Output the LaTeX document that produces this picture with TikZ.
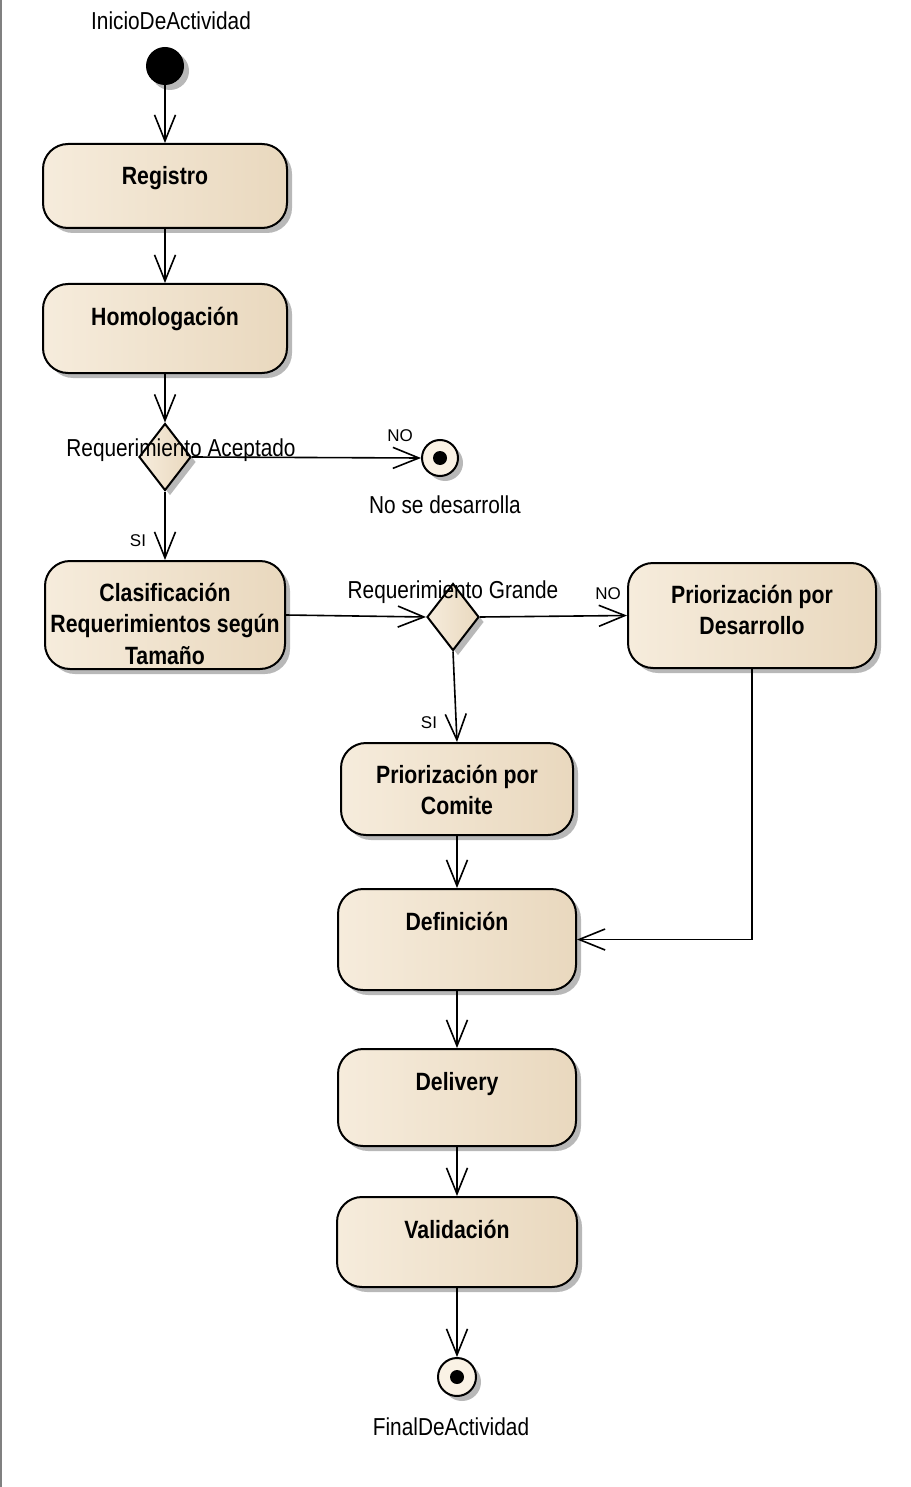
\documentclass[tikz,border=0pt]{standalone}
\usepackage{fontspec}
\newfontfamily\eafont[FakeStretch=0.85]{Liberation Sans}
\newfontfamily\eatag{Liberation Sans}
\usetikzlibrary{shapes.geometric,shadows,arrows.meta}
\definecolor{eaL}{RGB}{246,236,220}
\definecolor{eaM}{RGB}{250,242,229}
\definecolor{eaR}{RGB}{233,216,190}
\tikzset{
  shade/.style={drop shadow={shadow xshift=5pt,shadow yshift=-5pt,fill=black!28,opacity=1}},
  act/.style={draw,line width=2pt,rounded corners=25pt,left color=eaL,middle color=eaM,right color=eaR,shade},
  acttxt/.style={font=\eafont\bfseries\fontsize{25}{31.5}\selectfont,text width=236pt,align=flush center,inner sep=0pt,anchor=base},
  dec/.style={diamond,draw,line width=2pt,minimum width=52pt,minimum height=67pt,inner sep=0pt,left color=eaL,middle color=eaM,right color=eaR,shade},
  fin/.style={circle,draw,line width=2pt,minimum size=36pt,inner sep=0pt,fill=eaM,shade,
    path picture={\fill[black] (path picture bounding box.center) circle (7pt);}},
  plain/.style={font=\eafont\fontsize{24.5}{28}\selectfont,inner sep=0pt,anchor=base},
  tag/.style={font=\eatag\fontsize{17}{20}\selectfont,inner sep=0pt,anchor=base},
  flow/.style={line width=1.6pt,-{Straight Barb[length=26pt,width=21pt,line width=1.6pt]}}
}
\begin{document}
\begin{tikzpicture}[x=1pt,y=-1pt]
  \useasboundingbox (0,0) rectangle (910,1487);
  \draw[gray,line width=2pt] (1,0) -- (1,1487);

  \node[circle,fill=black,minimum size=38pt,inner sep=0pt,shade] (ini) at (165,66) {};
  \node[plain] (initxt) at (171,30) {InicioDeActividad};

  \node[act,minimum width=244pt,minimum height=84pt] (reg) at (165,186) {};
  \node[acttxt] (regtxt) at ([yshift=-42pt]reg.north) {Registro};
  \node[act,minimum width=244pt,minimum height=89pt] (hom) at (165,328.5) {};
  \node[acttxt] (homtxt) at ([yshift=-42pt]hom.north) {Homologación};

  \node[dec] (dec1) at (165,457) {};
  \node[fin] (fin1) at (440,458) {};
  \node[plain] (fin1txt) at (445,513) {No se desarrolla};

  \node[act,minimum width=240pt,minimum height=108pt] (cla) at (165,615) {};
  \node[acttxt] (clatxt) at ([yshift=-41pt]cla.north) {Clasificación\\Requerimientos según\\Tamaño};

  \node[dec] (dec2) at (453,617) {};
  \node[act,minimum width=248pt,minimum height=105pt] (pde) at (752,615.5) {};
  \node[acttxt] (pdetxt) at ([yshift=-41pt]pde.north) {Priorización por\\Desarrollo};

  \node[act,minimum width=232pt,minimum height=92pt] (pco) at (457,789) {};
  \node[acttxt] (pcotxt) at ([yshift=-41pt]pco.north) {Priorización por\\Comite};
  \node[act,minimum width=238pt,minimum height=101pt] (def) at (457,939.5) {};
  \node[acttxt] (deftxt) at ([yshift=-42pt]def.north) {Definición};
  \node[act,minimum width=238pt,minimum height=97pt] (del) at (457,1097.5) {};
  \node[acttxt] (deltxt) at ([yshift=-42pt]del.north) {Delivery};
  \node[act,minimum width=240pt,minimum height=90pt] (val) at (457,1242) {};
  \node[acttxt] (valtxt) at ([yshift=-42pt]val.north) {Validación};

  \node[fin,minimum size=38pt] (fin2) at (457,1377) {};
  \node[plain] (fin2txt) at (451,1435) {FinalDeActividad};

  \foreach \a/\b in {ini/reg,reg/hom,hom/dec1,dec1/cla,pco/def,def/del,del/val,val/fin2}
    \draw[flow] (\a) -- (\b);
  \draw[flow] (dec1.east) -- (fin1.west);
  \draw[flow] (cla.east) -- (dec2.west);
  \draw[flow] (dec2.east) -- (pde.west);
  \draw[flow] (dec2.south) -- (pco.north);
  \draw[flow] (pde.south) |- (def.east);

  \node[plain] (dec1txt) at (181,456) {Requerimiento Aceptado};
  \node[plain] (dec2txt) at (453,598) {Requerimiento Grande};
  \node[tag] (no1) at (400,441) {NO};
  \node[tag] (si1) at (138,546) {SI};
  \node[tag] (no2) at (608,599) {NO};
  \node[tag] (si2) at (429,728) {SI};
\end{tikzpicture}
\end{document}
